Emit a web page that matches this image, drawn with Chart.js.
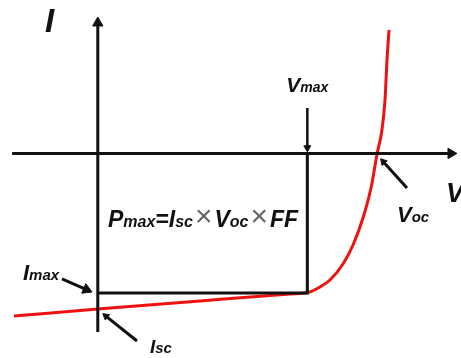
<!DOCTYPE html>
<html>
<head>
<meta charset="utf-8">
<script src="https://cdn.jsdelivr.net/npm/chart.js@4/dist/chart.umd.min.js"></script>
<style>
  html, body { margin: 0; padding: 0; background: #fff; }
  #wrap { width: 461px; height: 358px; position: relative; }
</style>
</head>
<body>
<div id="wrap"><canvas id="ivChart"></canvas></div>
<script>
// solar cell I-V curve, voltage (V) vs current (A)
const ivVoltage = [-0.180, 0.000, 0.2195, 0.4128, 0.4514, 0.4772, 0.4987, 0.5266, 0.5481, 0.5695, 0.5867, 0.600, 0.6103, 0.6168, 0.6211, 0.6254];
const ivCurrent = [-3.179, -3.042, -2.885, -2.749, -2.720, -2.612, -2.475, -2.162, -1.790, -1.263, -0.676, 0.000, 0.458, 1.045, 1.827, 2.413];

// key points
const vOc = 0.60;
const vMax = 0.45;
const iSc = -3.04;
const iMax = -2.73;

// axes drawn as lines (from -> to)
const voltAxis = [[-0.184, 0], [0.7585, 0]];
const currAxis = [[0, -3.49], [0, 2.55]];

// pointer arrows (tail -> head)
const vMaxArrow = [[vMax, 0.89], [vMax, 0.11]];
const vOcArrow = [[0.664, -0.676], [0.6131, -0.162]];
const iScArrow = [[0.0842, -3.668], [0.0174, -3.181]];
const iMaxArrow = [[-0.0769, -2.455], [-0.0242, -2.663]];

// Pmax rectangle
const pMaxRect = [[0, iMax], [vMax, iMax], [vMax, 0]];

const toPts = arr => arr.map(([v, i]) => ({ x: v, y: i }));

// rotate the head triangle along the last segment
function headAngle(ctx) {
  const d = ctx.dataset.data;
  const { x, y } = ctx.chart.scales;
  const a = d[d.length - 2], b = d[d.length - 1];
  const dx = x.getPixelForValue(b.x) - x.getPixelForValue(a.x);
  const dy = y.getPixelForValue(b.y) - y.getPixelForValue(a.y);
  return Math.atan2(dx, -dy) * 180 / Math.PI;
}

function arrowSet(pts, width, head) {
  return {
    data: toPts(pts),
    borderColor: '#111',
    borderWidth: width,
    borderCapStyle: 'butt',
    pointStyle: 'triangle',
    pointRadius: ctx => ctx.dataIndex === pts.length - 1 ? head : 0,
    pointRotation: headAngle,
    pointBackgroundColor: '#111',
    pointBorderColor: '#111',
    pointBorderWidth: 1,
    tension: 0
  };
}

// text labels: anchor (V, I) and runs [text, size, kind]
const labels = [
  { v: -0.1134, i: 2.374, parts: [['I', 33, 'b']] },
  { v: 0.7478, i: -0.950, parts: [['V', 27, 'b']] },
  { v: vMax, i: 1.20, align: 'center', parts: [['V', 21, 'b'], ['max', 14, 'b']] },
  { v: 0.6425, i: -1.341, parts: [['V', 22, 'b'], ['oc', 15, 'b']] },
  { v: 0.0219, i: -1.439, parts: [['P', 23, 'b'], ['max', 16, 'b'], ['=', 23, 'b'], ['I', 23, 'b'], ['sc', 16, 'b'],
      ['\u00d7', 30, 'x'], ['V', 23, 'b'], ['oc', 16, 'b'], ['\u00d7', 30, 'x'], ['FF', 23, 'b']] },
  { v: -0.1606, i: -2.475, parts: [['I', 22, 'b'], ['max', 15, 'b']] },
  { v: 0.1121, i: -3.902, parts: [['I', 19, 'b'], ['sc', 15, 'b']] }
];

const labelPlugin = {
  id: 'ivLabels',
  afterDatasetsDraw(chart) {
    const { ctx, scales: { x, y } } = chart;
    ctx.save();
    ctx.textBaseline = 'alphabetic';
    labels.forEach(l => {
      const runs = l.parts.map(([t, size, kind]) => ({
        t, kind,
        pad: kind === 'x' ? 2 : 0,
        font: kind === 'x' ? `${size}px "Liberation Sans"` : `italic bold ${size}px "Liberation Sans"`
      }));
      let w = 0;
      runs.forEach(r => { ctx.font = r.font; r.w = ctx.measureText(r.t).width; w += r.w + 2 * r.pad; });
      let px = x.getPixelForValue(l.v);
      if (l.align === 'center') px -= w / 2;
      const py = y.getPixelForValue(l.i);
      runs.forEach(r => {
        ctx.font = r.font;
        ctx.fillStyle = r.kind === 'x' ? '#666' : '#111';
        ctx.fillText(r.t, px + r.pad, r.kind === 'x' ? py - 1 : py);
        px += r.w + 2 * r.pad;
      });
    });
    ctx.restore();
  }
};

new Chart(document.getElementById('ivChart'), {
  type: 'line',
  data: {
    datasets: [
      arrowSet(voltAxis, 3, 6),
      arrowSet(currAxis, 3, 6),
      {
        data: toPts(pMaxRect),
        borderColor: '#111',
        borderWidth: 3,
        borderJoinStyle: 'miter',
        pointRadius: 0,
        tension: 0
      },
      arrowSet(vMaxArrow, 2.5, 4),
      arrowSet(vOcArrow, 3, 4),
      arrowSet(iScArrow, 3, 4),
      arrowSet(iMaxArrow, 3, 6),
      {
        data: ivVoltage.map((v, k) => ({ x: v, y: ivCurrent[k] })),
        borderColor: '#ee1111',
        borderWidth: 3,
        pointRadius: 0,
        cubicInterpolationMode: 'monotone'
      }
    ]
  },
  options: {
    responsive: true,
    maintainAspectRatio: false,
    animation: false,
    events: [],
    layout: { padding: 0, autoPadding: false },
    plugins: { legend: { display: false }, tooltip: { enabled: false } },
    scales: {
      x: { type: 'linear', min: -0.21, max: 0.78, display: false },
      y: { type: 'linear', min: -4, max: 3, display: false }
    }
  },
  plugins: [labelPlugin]
});
</script>
</body>
</html>
